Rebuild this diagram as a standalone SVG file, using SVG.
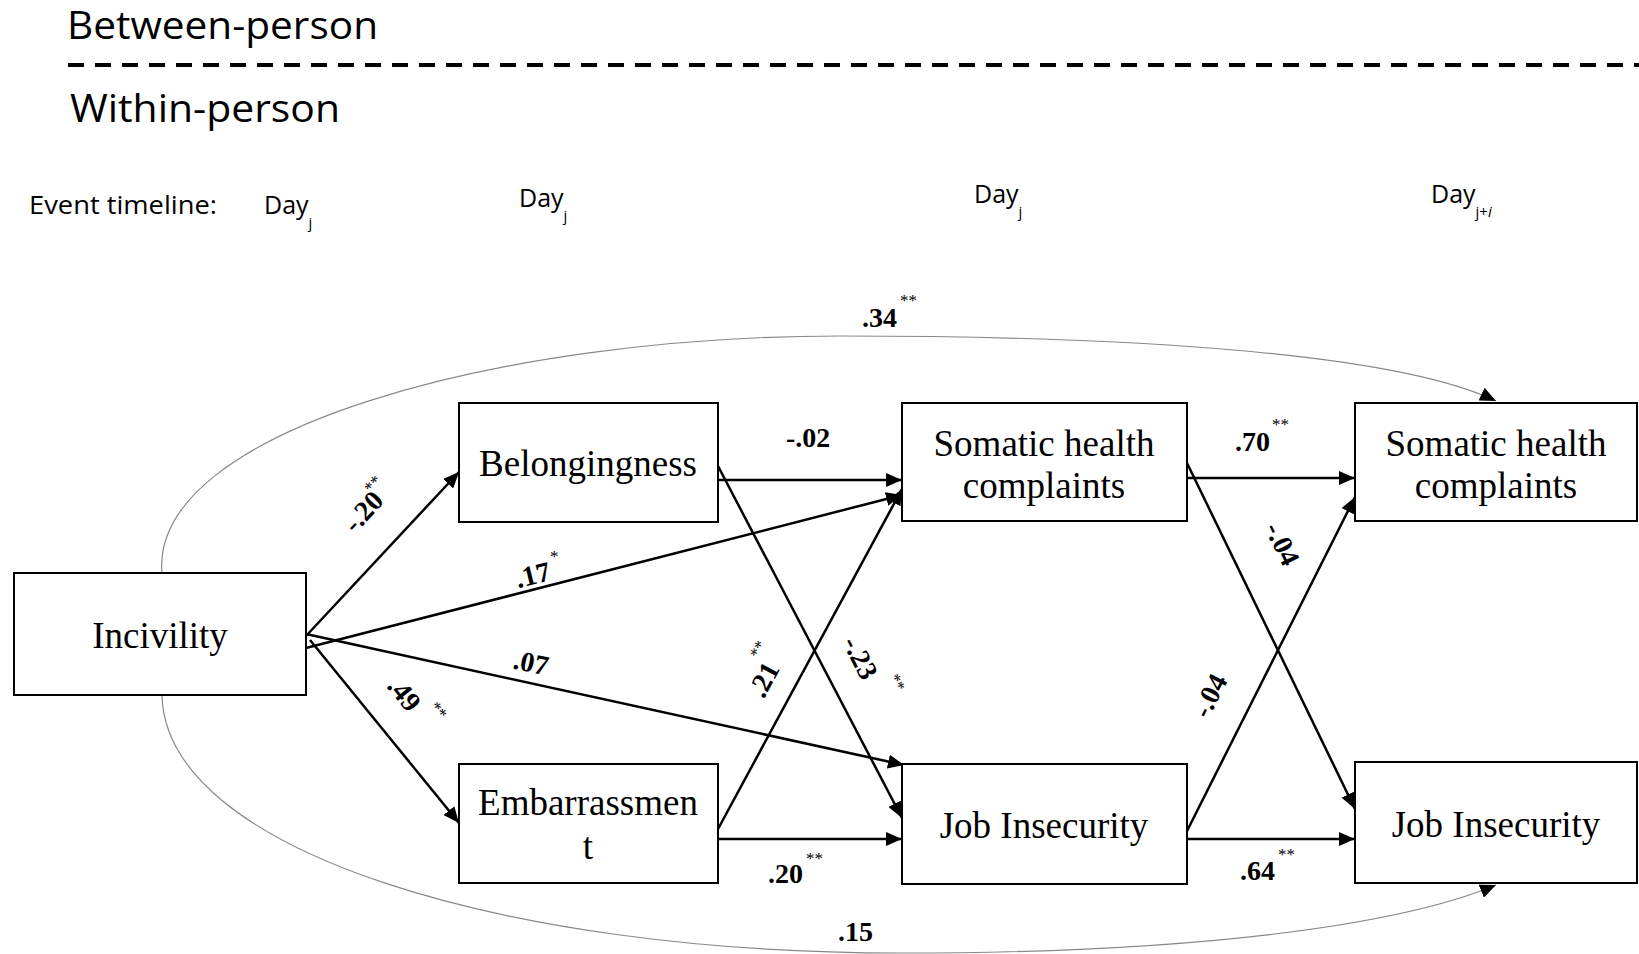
<svg xmlns="http://www.w3.org/2000/svg" width="1639" height="954" viewBox="0 0 1639 954">
<style>
.hdr{font-family:"Open Sans","Liberation Sans",sans-serif;fill:#000}
.node rect{fill:#fff;stroke:#000;stroke-width:2}
.node text{font-family:"Liberation Serif","Times New Roman",serif;font-size:37px;text-anchor:middle;fill:#000}
.lbl{font-family:"Liberation Serif","Times New Roman",serif;font-size:28px;font-weight:bold;fill:#000}
.star{font-family:"Liberation Serif","Times New Roman",serif;font-size:17px;fill:#000}
.edge{stroke:#000;stroke-width:2.5;fill:none;marker-end:url(#ah)}
.curve{stroke:#888;stroke-width:1.2;fill:none;marker-end:url(#ah)}
</style>
<defs>
<marker id="ah" markerUnits="userSpaceOnUse" markerWidth="18" markerHeight="14" refX="16" refY="7" orient="auto">
<path d="M0,0 L16,7 L0,14 Z" fill="#000"/>
</marker>
</defs>
<rect width="1639" height="954" fill="#fff"/>
<g id="header">
<text class="hdr" x="67" y="39" font-size="38" textLength="311" lengthAdjust="spacingAndGlyphs">Between-person</text>
<line x1="68" y1="65" x2="1639" y2="65" stroke="#000" stroke-width="4" stroke-dasharray="16,11"/>
<text class="hdr" x="70" y="122" font-size="38" textLength="270" lengthAdjust="spacingAndGlyphs">Within-person</text>
<text class="hdr" x="29" y="214" font-size="25" textLength="188" lengthAdjust="spacingAndGlyphs">Event timeline:</text>
<text class="hdr" x="264" y="214" font-size="25">Day<tspan font-size="15" dy="14">j</tspan></text>
<text class="hdr" x="519" y="207" font-size="25">Day<tspan font-size="15" dy="14">j</tspan></text>
<text class="hdr" x="974" y="203" font-size="25">Day<tspan font-size="15" dy="14">j</tspan></text>
<text class="hdr" x="1431" y="203" font-size="25">Day<tspan font-size="15" dy="14">j+<tspan font-style="italic">i</tspan></tspan></text>
</g>
<g id="connectors">
<path class="curve" d="M162,573 C150,430 500,336 840,336 C1150,336 1400,355 1496,401"/>
<path class="curve" d="M162,695 C165,850 500,953 900,953 C1200,953 1400,925 1496,885"/>
<line class="edge" x1="306" y1="636" x2="459" y2="472"/>
<line class="edge" x1="306" y1="648" x2="902" y2="495"/>
<line class="edge" x1="306" y1="634" x2="904" y2="765"/>
<line class="edge" x1="310" y1="640" x2="459" y2="823"/>
<line class="edge" x1="718" y1="480" x2="902" y2="480"/>
<line class="edge" x1="718" y1="466" x2="902" y2="818"/>
<line class="edge" x1="718" y1="829" x2="902" y2="489"/>
<line class="edge" x1="718" y1="839" x2="902" y2="839"/>
<line class="edge" x1="1187" y1="478" x2="1355" y2="478"/>
<line class="edge" x1="1187" y1="463" x2="1355" y2="809"/>
<line class="edge" x1="1187" y1="831" x2="1355" y2="497"/>
<line class="edge" x1="1187" y1="839" x2="1355" y2="839"/>
</g>
<g id="labels">
<text class="lbl" x="862" y="327">.34</text><text class="star" x="900" y="306">**</text>
<text class="lbl" transform="translate(370,518) rotate(-47)" text-anchor="middle">-.20</text>
<text class="star" transform="translate(377,488) rotate(-47)" text-anchor="middle">**</text>
<text class="lbl" transform="translate(535,584) rotate(-14)" text-anchor="middle">.17</text>
<text class="star" x="550" y="562">*</text>
<text class="lbl" transform="translate(529,672) rotate(12)" text-anchor="middle">.07</text>
<text class="lbl" transform="translate(397,700) rotate(51)" text-anchor="middle">.49</text>
<text class="star" transform="translate(434,714) rotate(51)" text-anchor="middle">**</text>
<text class="lbl" x="786" y="447">-.02</text>
<text class="lbl" transform="translate(772,684) rotate(-62)" text-anchor="middle">.21</text>
<text class="star" transform="translate(763,652) rotate(-62)" text-anchor="middle">**</text>
<text class="lbl" transform="translate(852,662) rotate(63)" text-anchor="middle">-.23</text>
<text class="star" transform="translate(892,685) rotate(63)" text-anchor="middle">**</text>
<text class="lbl" x="1235" y="451">.70</text><text class="star" x="1272" y="430">**</text>
<text class="lbl" transform="translate(1274,548) rotate(64)" text-anchor="middle">-.04</text>
<text class="lbl" transform="translate(1218,700) rotate(-63)" text-anchor="middle">-.04</text>
<text class="lbl" x="768" y="883">.20</text><text class="star" x="806" y="864">**</text>
<text class="lbl" x="1240" y="880">.64</text><text class="star" x="1278" y="860">**</text>
<text class="lbl" x="838" y="941">.15</text>
</g>
<g id="incivility" class="node"><rect x="14" y="573" width="292" height="122"/><text x="160" y="648">Incivility</text></g>
<g id="belongingness" class="node"><rect x="459" y="403" width="259" height="119"/><text x="588" y="476">Belongingness</text></g>
<g id="embarrassment" class="node"><rect x="459" y="764" width="259" height="119"/><text x="588" y="815">Embarrassmen</text><text x="588" y="859">t</text></g>
<g id="somatic1" class="node"><rect x="902" y="403" width="285" height="118"/><text x="1044" y="456">Somatic health</text><text x="1044" y="498">complaints</text></g>
<g id="jobins1" class="node"><rect x="902" y="764" width="285" height="120"/><text x="1044" y="838">Job Insecurity</text></g>
<g id="somatic2" class="node"><rect x="1355" y="403" width="282" height="118"/><text x="1496" y="456">Somatic health</text><text x="1496" y="498">complaints</text></g>
<g id="jobins2" class="node"><rect x="1355" y="762" width="282" height="121"/><text x="1496" y="837">Job Insecurity</text></g>
</svg>
